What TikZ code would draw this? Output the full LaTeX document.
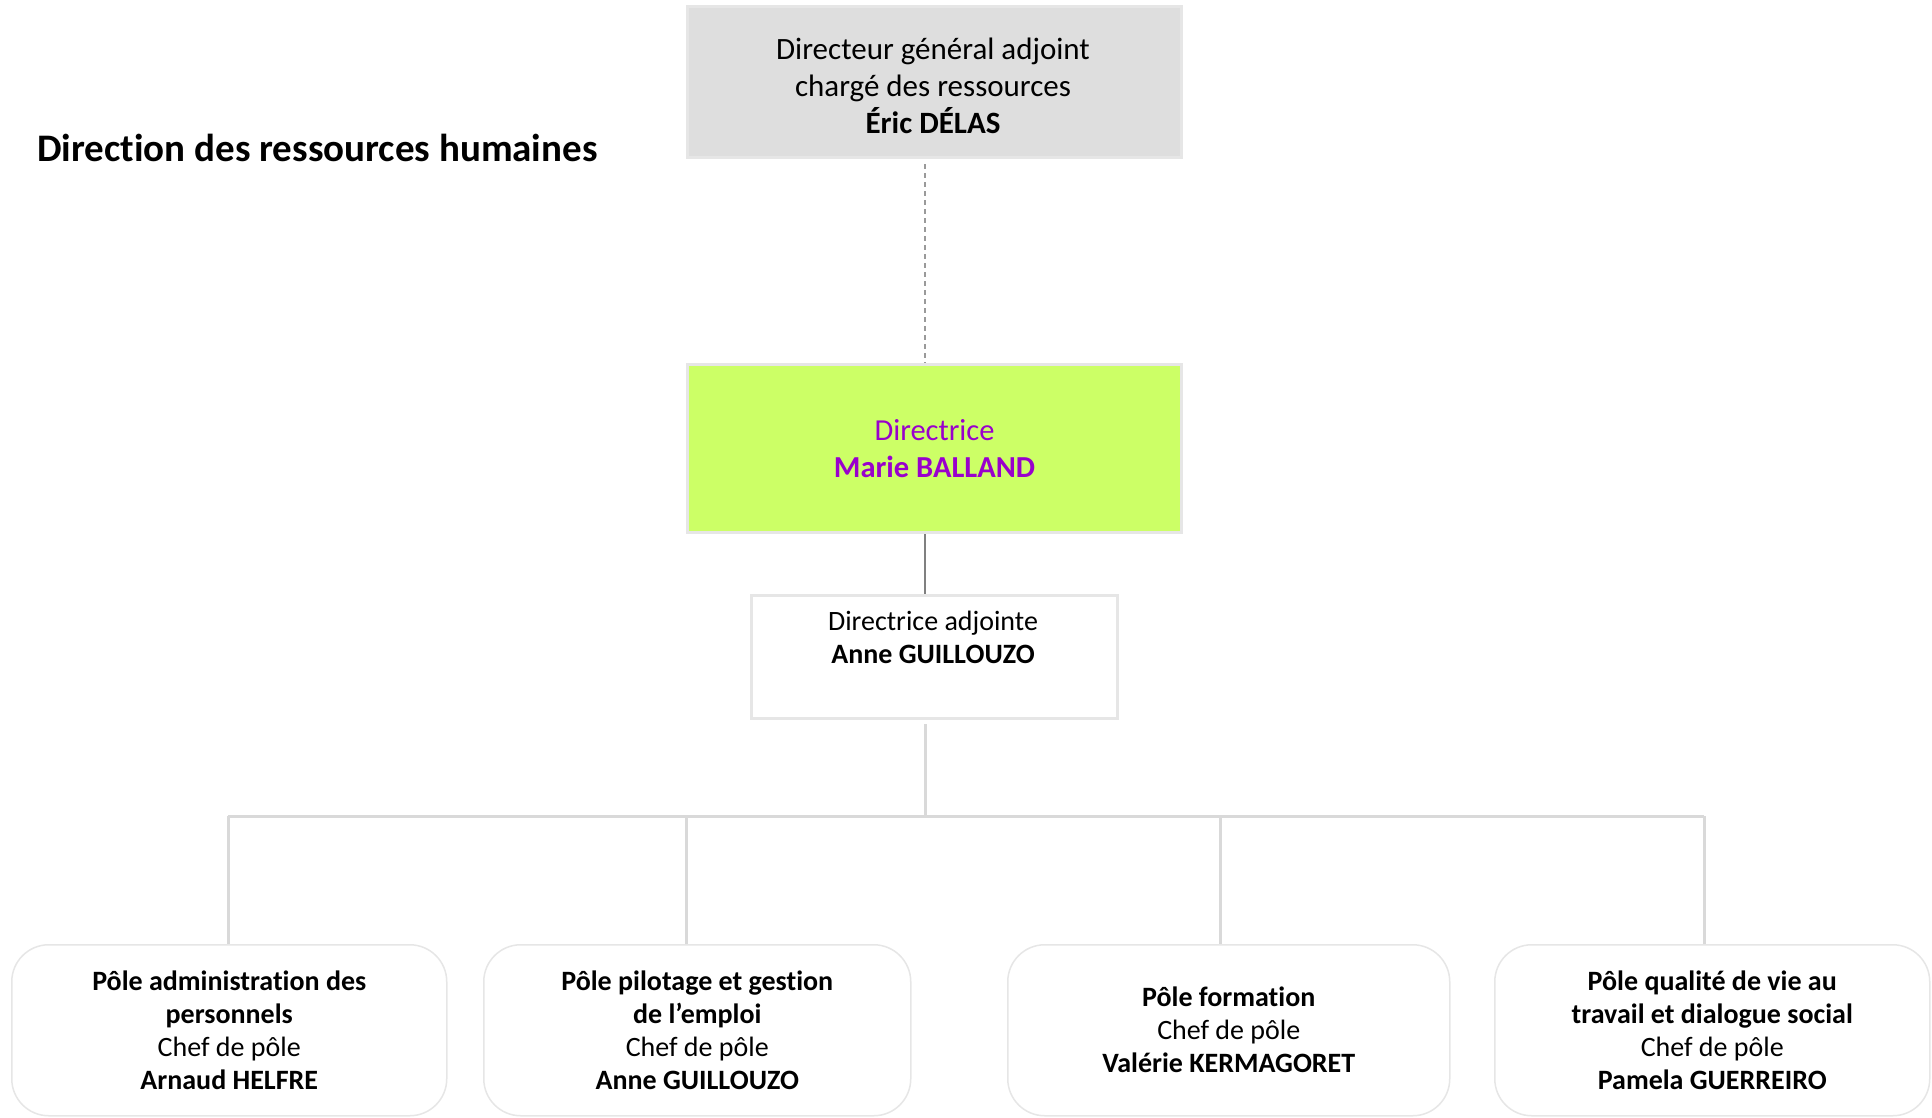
\documentclass[tikz,border=0pt]{standalone}
\usepackage{fontspec}
\setmainfont{Carlito}[Ligatures=NoCommon]
\definecolor{boxgray}{HTML}{DEDEDE}
\definecolor{edgegray}{HTML}{E6E6E6}
\definecolor{lime}{HTML}{CCFF66}
\definecolor{violet}{HTML}{9900CC}
\definecolor{linegray}{HTML}{D9D9D9}
\definecolor{darkline}{HTML}{808080}
\begin{document}
\begin{tikzpicture}[x=1pt,y=-1pt,
  boxstyle/.style={draw=edgegray, line width=3pt, inner sep=0pt, anchor=north west},
  polebox/.style={draw=edgegray, line width=1.5pt, rounded corners=37pt, fill=white, inner sep=0pt, anchor=north west, align=center, font=\fontsize{28}{33}\selectfont},
  conn/.style={draw=linegray, line width=3pt},
]
\useasboundingbox (0,0) rectangle (1932,1117);

\node[anchor=west, inner sep=0pt, font=\fontsize{39}{44}\selectfont\bfseries] (title) at (37,148) {Direction des ressources humaines};

% top box
\node[boxstyle, fill=boxgray, minimum width=494pt, minimum height=151pt] (dga) at (686,5) {};
\node[align=center, font=\fontsize{31}{37}\selectfont] (dgatext) at (933,86) {Directeur général adjoint\\chargé des ressources\\\textbf{Éric DÉLAS}};

% director
\node[boxstyle, fill=lime, minimum width=494pt, minimum height=168pt, align=center, text=violet, font=\fontsize{30.5}{37}\selectfont] (dir) at (686,363) {Directrice\\\textbf{Marie BALLAND}};

% deputy
\node[boxstyle, fill=white, minimum width=366pt, minimum height=123pt] (dep) at (750,594) {};
\node[align=center, font=\fontsize{28}{33}\selectfont] (deptext) at (933,637.5) {Directrice adjointe\\\textbf{Anne GUILLOUZO}};

% poles
\node[polebox, minimum width=435pt, minimum height=171pt] (p1) at (11,944) {\textbf{Pôle administration des}\\\textbf{personnels}\\Chef de pôle\\\textbf{Arnaud HELFRE}};
\node[polebox, minimum width=427pt, minimum height=171pt] (p2) at (483,944) {\textbf{Pôle pilotage et gestion}\\\textbf{de l’emploi}\\Chef de pôle\\\textbf{Anne GUILLOUZO}};
\node[polebox, minimum width=442pt, minimum height=171pt] (p3) at (1007,944) {\textbf{Pôle formation}\\Chef de pôle\\\textbf{Valérie KERMAGORET}};
\node[polebox, minimum width=435pt, minimum height=171pt] (p4) at (1494,944) {\textbf{Pôle qualité de vie au}\\\textbf{travail et dialogue social}\\Chef de pôle\\\textbf{Pamela GUERREIRO}};

% connectors
\coordinate (dgabot) at (925,164);
\coordinate (dirtop) at (925,363);
\draw[darkline!80, line width=1.3pt, dashed, dash pattern=on 5pt off 4pt] (dgabot) -- (dirtop);
\draw[darkline, line width=1.5pt] (dir.south -| dirtop) -- (dep.north -| dirtop);

\coordinate (hub) at (925,816);
\coordinate (bus1) at (228,816);
\coordinate (bus2) at (686,816);
\coordinate (bus3) at (1220,816);
\coordinate (bus4) at (1704,816);
\draw[conn] (dep.south -| hub) ++(0,4) -- (hub);
\draw[conn] (bus1) -- (bus4);
\draw[conn] (bus1) -- (bus1 |- p1.north);
\draw[conn] (bus2) -- (bus2 |- p2.north);
\draw[conn] (bus3) -- (bus3 |- p3.north);
\draw[conn] (bus4) -- (bus4 |- p4.north);
\end{tikzpicture}
\end{document}
